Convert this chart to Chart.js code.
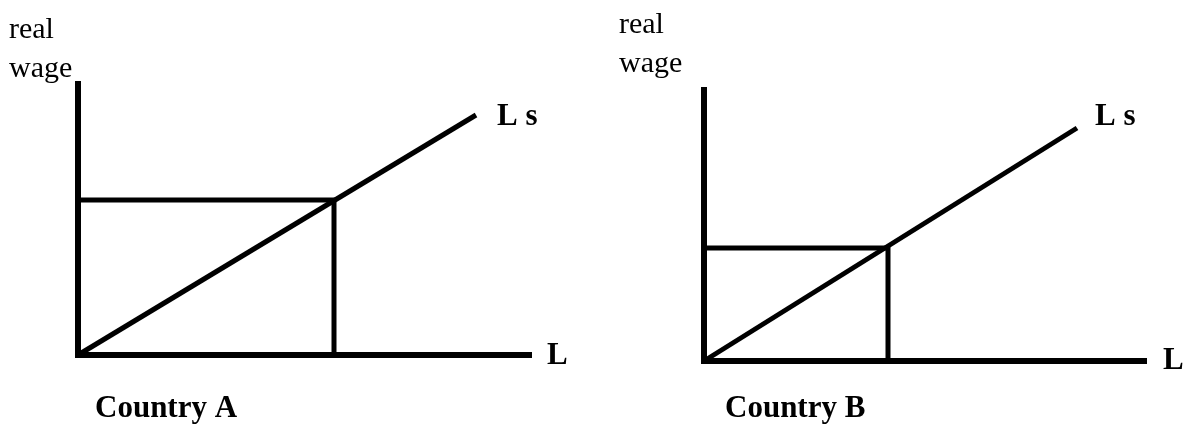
<!DOCTYPE html>
<html>
<head>
<meta charset="utf-8">
<script src="https://cdn.jsdelivr.net/npm/chart.js@4"></script>
<style>
  html, body { margin: 0; padding: 0; background: #ffffff; }
  #wrap { position: relative; width: 1191px; height: 424px; }
  .panel { position: absolute; top: 0; height: 424px; }
</style>
</head>
<body>
<div id="wrap">
  <div class="panel" style="left:0;width:595px"><canvas id="chartA" width="595" height="424"></canvas></div>
  <div class="panel" style="left:595px;width:596px"><canvas id="chartB" width="596" height="424"></canvas></div>
</div>
<script>
// values (one entry per country)
const paises = ['Country A', 'Country B'];
const eixoL = [45.4, 44.3];      // length of the L axis
const eixoW = [27.4, 27.4];      // height of the real wage axis
const salario = [15.5, 11.3];    // equilibrium real wage
const emprego = [25.6, 18.4];    // equilibrium L
const fimLsX = [39.8, 37.3];     // end of the Ls curve
const fimLsY = [24.0, 23.3];

// layout of each panel (pixels)
const paineis = [
  { canvas: 'chartA', padding: { left: 78, top: 81, right: 63, bottom: 69 },
    ls: [21, 10], l: [15, 9], pais: [17, 62], real: [-69, -43], wage: [-69, -4] },
  { canvas: 'chartB', padding: { left: 109, top: 87, right: 44, bottom: 63 },
    ls: [18, -3], l: [16, 8], pais: [21, 56], real: [-85, -54], wage: [-85, -15] }
];

const rotulos = {
  id: 'rotulos',
  afterDraw(chart, args, opts) {
    const { ctx, chartArea, scales: { x, y } } = chart;
    const p = opts.painel;
    const i = opts.indice;
    ctx.save();
    ctx.fillStyle = '#000000';
    ctx.textAlign = 'left';
    ctx.textBaseline = 'alphabetic';

    ctx.font = 'bold 31px "Liberation Serif", "Times New Roman", serif';
    ctx.fillText('L s', x.getPixelForValue(fimLsX[i]) + p.ls[0], y.getPixelForValue(fimLsY[i]) + p.ls[1]);
    ctx.fillText('L', x.getPixelForValue(eixoL[i]) + p.l[0], y.getPixelForValue(0) + p.l[1]);
    ctx.fillText(paises[i], x.getPixelForValue(0) + p.pais[0], y.getPixelForValue(0) + p.pais[1]);

    ctx.font = '30px "Liberation Serif", "Times New Roman", serif';
    ctx.fillText('real', chartArea.left + p.real[0], chartArea.top + p.real[1]);
    ctx.fillText('wage', chartArea.left + p.wage[0], chartArea.top + p.wage[1]);
    ctx.restore();
  }
};

paineis.forEach((p, i) => {
  const linha = {
    borderColor: '#000000',
    borderWidth: 5,
    pointRadius: 0,
    showLine: true,
    tension: 0,
    clip: false,
    borderJoinStyle: 'miter'
  };

  new Chart(document.getElementById(p.canvas), {
    type: 'scatter',
    data: {
      datasets: [
        { ...linha, label: 'eixos', borderWidth: 6,
          data: [{ x: 0, y: eixoW[i] }, { x: 0, y: 0 }, { x: eixoL[i], y: 0 }] },
        { ...linha, label: 'equilibrio',
          data: [{ x: 0, y: salario[i] }, { x: emprego[i], y: salario[i] }, { x: emprego[i], y: 0 }] },
        { ...linha, label: 'Ls',
          data: [{ x: 0, y: 0 }, { x: fimLsX[i], y: fimLsY[i] }] }
      ]
    },
    options: {
      responsive: false,
      animation: false,
      events: [],
      layout: { padding: p.padding },
      plugins: {
        legend: { display: false },
        tooltip: { enabled: false },
        rotulos: { painel: p, indice: i }
      },
      scales: {
        x: { type: 'linear', display: false, min: 0, max: eixoL[i] },
        y: { type: 'linear', display: false, min: 0, max: eixoW[i] }
      }
    },
    plugins: [rotulos]
  });
});
</script>
</body>
</html>
